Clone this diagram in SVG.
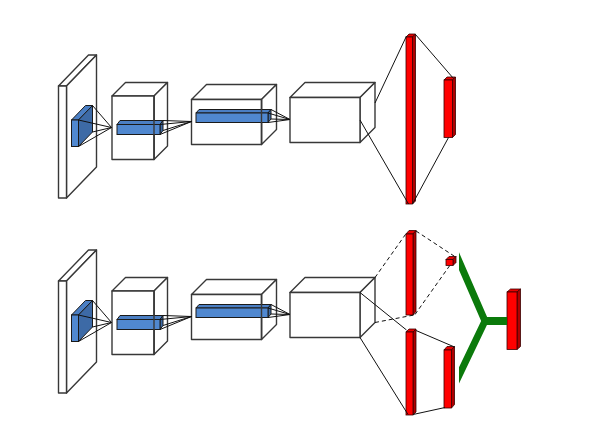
<svg xmlns="http://www.w3.org/2000/svg" width="591" height="425" viewBox="0 0 591 425">
<defs>
<style>
.w{fill:#fff;stroke:#383838;stroke-width:1.4;stroke-linejoin:round}
.o{fill:none;stroke:#383838;stroke-width:1.4;stroke-linejoin:round}
.bf{fill:#5088d0;stroke:#1a1a1a;stroke-width:1}
.bt{fill:#4b7fc4;stroke:#1a1a1a;stroke-width:1}
.bs{fill:#3d6aa6;stroke:#1a1a1a;stroke-width:1}
.rf{fill:#ff0000;stroke:#3a0000;stroke-width:0.8}
.rt{fill:#e80000;stroke:#3a0000;stroke-width:0.8}
.rs{fill:#b00000;stroke:#3a0000;stroke-width:0.8}
.ln{stroke:#111;stroke-width:1;fill:none}
.dl{stroke:#111;stroke-width:1;fill:none;stroke-dasharray:4 3}
.g{stroke:#0b7a0b;fill:none;stroke-linejoin:miter}
</style>
<clipPath id="gc"><rect x="459" y="240" width="60" height="150"/></clipPath>
</defs>
<rect width="591" height="425" fill="#fff"/>

<!-- top row -->
<g id="plate1">
<polygon class="w" points="58.5,86 88.5,55 96.5,55 66.5,86"/>
<polygon class="w" points="66.5,86 96.5,55 96.5,167 66.5,198"/>
<rect class="w" x="58.5" y="86" width="8" height="112"/>
</g>
<g id="kernel1">
<polygon class="bt" points="71.5,120 85.5,105.5 92.5,105.5 78.5,120"/>
<polygon class="bs" points="78.5,120 92.5,105.5 92.5,132 78.5,146.5"/>
<rect class="bf" x="71.5" y="120" width="7" height="26.5"/>
</g>
<g id="cube2">
<polygon class="w" points="112,96 125.5,82.5 167.5,82.5 154,96"/>
<polygon class="w" points="154,96 167.5,82.5 167.5,146 154,159.5"/>
<rect class="w" x="112" y="96" width="42" height="63.5"/>
<polygon class="bt" points="117,124.5 120,120.5 163,120.5 160,124.5"/>
<polygon class="bs" points="160,124.5 163,120.5 163,130.5 160,134.5"/>
<rect class="bf" x="117" y="124.5" width="43" height="10"/>
<line class="o" x1="154" y1="96" x2="154" y2="159.5"/>
</g>
<g id="cube3">
<polygon class="w" points="191.5,99.5 206.5,84.5 276.5,84.5 261.5,99.5"/>
<polygon class="w" points="261.5,99.5 276.5,84.5 276.5,129.5 261.5,144.5"/>
<rect class="w" x="191.5" y="99.5" width="70" height="45"/>
<polygon class="bt" points="196,113 199,109.5 271,109.5 268,113"/>
<polygon class="bs" points="268,113 271,109.5 271,119 268,122.5"/>
<rect class="bf" x="196" y="113" width="72" height="9.5"/>
<line class="o" x1="261.5" y1="99.5" x2="261.5" y2="144.5"/>
</g>
<g id="cube4">
<polygon class="w" points="290,97.5 305,82.5 375,82.5 360,97.5"/>
<polygon class="w" points="360,97.5 375,82.5 375,127.5 360,142.5"/>
<rect class="w" x="290" y="97.5" width="70" height="45"/>
</g>
<g id="fc1">
<polygon class="rt" points="406,37 409,34 415.5,34 412.5,37"/>
<polygon class="rs" points="412.5,37 415.5,34 415.5,201 412.5,204"/>
<rect class="rf" x="406" y="37" width="6.5" height="167"/>
</g>
<g id="out1">
<polygon class="rt" points="444,80 447,77 455.5,77 452.5,80"/>
<polygon class="rs" points="452.5,80 455.5,77 455.5,134.5 452.5,137.5"/>
<rect class="rf" x="444" y="80" width="8.5" height="57.5"/>
</g>

<!-- bottom row -->
<g id="plate2" transform="translate(0,195)">
<polygon class="w" points="58.5,86 88.5,55 96.5,55 66.5,86"/>
<polygon class="w" points="66.5,86 96.5,55 96.5,167 66.5,198"/>
<rect class="w" x="58.5" y="86" width="8" height="112"/>
</g>
<g id="kernel2" transform="translate(0,195)">
<polygon class="bt" points="71.5,120 85.5,105.5 92.5,105.5 78.5,120"/>
<polygon class="bs" points="78.5,120 92.5,105.5 92.5,132 78.5,146.5"/>
<rect class="bf" x="71.5" y="120" width="7" height="26.5"/>
</g>
<g id="cube2b" transform="translate(0,195)">
<polygon class="w" points="112,96 125.5,82.5 167.5,82.5 154,96"/>
<polygon class="w" points="154,96 167.5,82.5 167.5,146 154,159.5"/>
<rect class="w" x="112" y="96" width="42" height="63.5"/>
<polygon class="bt" points="117,124.5 120,120.5 163,120.5 160,124.5"/>
<polygon class="bs" points="160,124.5 163,120.5 163,130.5 160,134.5"/>
<rect class="bf" x="117" y="124.5" width="43" height="10"/>
<line class="o" x1="154" y1="96" x2="154" y2="159.5"/>
</g>
<g id="cube3b" transform="translate(0,195)">
<polygon class="w" points="191.5,99.5 206.5,84.5 276.5,84.5 261.5,99.5"/>
<polygon class="w" points="261.5,99.5 276.5,84.5 276.5,129.5 261.5,144.5"/>
<rect class="w" x="191.5" y="99.5" width="70" height="45"/>
<polygon class="bt" points="196,113 199,109.5 271,109.5 268,113"/>
<polygon class="bs" points="268,113 271,109.5 271,119 268,122.5"/>
<rect class="bf" x="196" y="113" width="72" height="9.5"/>
<line class="o" x1="261.5" y1="99.5" x2="261.5" y2="144.5"/>
</g>
<g id="cube4b" transform="translate(0,195)">
<polygon class="w" points="290,97.5 305,82.5 375,82.5 360,97.5"/>
<polygon class="w" points="360,97.5 375,82.5 375,127.5 360,142.5"/>
<rect class="w" x="290" y="97.5" width="70" height="45"/>
</g>
<g id="fc2a">
<polygon class="rt" points="406,234 409,230.5 416,230.5 413,234"/>
<polygon class="rs" points="413,234 416,230.5 416,311.5 413,315"/>
<rect class="rf" x="406" y="234" width="7" height="81"/>
</g>
<g id="pool2a">
<polygon class="rt" points="446,259.5 449,256.5 456,256.5 453,259.5"/>
<polygon class="rs" points="453,259.5 456,256.5 456,262.5 453,265.5"/>
<rect class="rf" x="446" y="259.5" width="7" height="6"/>
</g>
<g id="fc2b">
<polygon class="rt" points="406,332 409,329 416,329 413,332"/>
<polygon class="rs" points="413,332 416,329 416,412 413,415"/>
<rect class="rf" x="406" y="332" width="7" height="83"/>
</g>
<g id="out2b">
<polygon class="rt" points="444,350 447,346.5 454.5,346.5 451.5,350"/>
<polygon class="rs" points="451.5,350 454.5,346.5 454.5,404.5 451.5,408"/>
<rect class="rf" x="444" y="350" width="7.5" height="58"/>
</g>
<g id="out2">
<polygon class="rt" points="507,292 510.5,289 520.5,289 517,292"/>
<polygon class="rs" points="517,292 520.5,289 520.5,346.5 517,349.5"/>
<rect class="rf" x="507" y="292" width="10" height="57.5"/>
</g>

<g id="connectors">
<g id="conn-top">
<path class="ln" d="M92.5,105.5L111.5,127.5M78.5,120L111.5,127.5M92.5,132L111.5,127.5M78.5,146.5L111.5,127.5"/>
<path class="ln" d="M163,120.5L191.5,121.5M160,124.5L191.5,121.5M163,130.5L191.5,121.5M160,134.5L191.5,121.5"/>
<path class="ln" d="M271,109.5L290,119.5M268,113L290,119.5M271,119L290,119.5M268,122.5L290,119.5"/>
<path class="ln" d="M375,103L406.5,36M360,120L408.5,204M415.5,34.5L453.5,78.5M412.5,204L448.5,137.5"/>
</g>
<g id="conn-bottom">
<path class="ln" transform="translate(0,195)" d="M92.5,105.5L111.5,127.5M78.5,120L111.5,127.5M92.5,132L111.5,127.5M78.5,146.5L111.5,127.5M163,120.5L191.5,121.5M160,124.5L191.5,121.5M163,130.5L191.5,121.5M160,134.5L191.5,121.5M271,109.5L290,119.5M268,113L290,119.5M271,119L290,119.5M268,122.5L290,119.5"/>
<path class="dl" d="M375,277.5L406.5,233M375,322.5L414,315M416,231L455.5,257M415,314.5L450.5,264.5"/>
<path class="ln" d="M360,292.5L406.5,330M360,337.5L408,414.5M416,330.5L454.5,347M413,414.5L445,407.5"/>
<g clip-path="url(#gc)">
<polyline class="g" stroke-width="7" points="452,245 485,321 452,390"/>
<line class="g" stroke-width="8" x1="482" y1="321" x2="507" y2="321"/>
</g>
</g>
</g>
</svg>
